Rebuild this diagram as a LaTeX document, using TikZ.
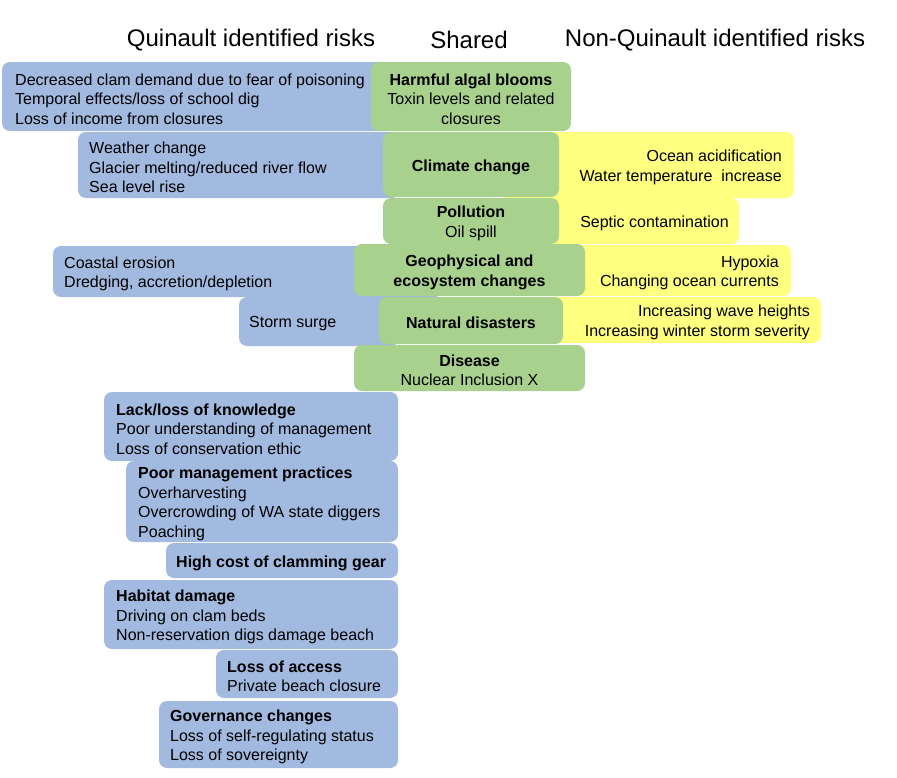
\documentclass[tikz,border=0pt]{standalone}
\usepackage{fontspec}
\setmainfont{Liberation Sans}
\definecolor{qblue}{RGB}{162,185,224}
\definecolor{qgreen}{RGB}{169,209,142}
\definecolor{qyellow}{RGB}{255,255,128}
\begin{document}
\begin{tikzpicture}[x=1pt,y=-1pt,
  boxbase/.style={rounded corners=8pt, inner sep=0pt, outer sep=0pt, draw=none},
  bbox/.style={boxbase, fill=qblue, anchor=north west},
  gbox/.style={boxbase, fill=qgreen, anchor=north west},
  ybox/.style={boxbase, fill=qyellow, anchor=north west},
  txt/.style={inner sep=0pt, font=\fontsize{16}{19.5}\selectfont, text=black, yshift=-2.5pt},
  btext/.style={txt, anchor=west, align=left},
  ytext/.style={txt, anchor=east, align=right},
  gtext/.style={txt, anchor=center, align=center},
  head/.style={inner sep=0pt, font=\fontsize{24}{28}\selectfont, anchor=center}]
\useasboundingbox (0,0) rectangle (897,777);
% headers
\node[head] (h1) at (251,40) {Quinault identified risks};
\node[head] (h2) at (469,40) {Shared};
\node[head] (h3) at (715,40) {Non-Quinault identified risks};
% blue boxes
\node[bbox, minimum width=388pt, minimum height=69pt] (b1) at (2,62) {};
\node[bbox, minimum width=322pt, minimum height=66pt] (b2) at (78,132) {};
\node[bbox, minimum width=390pt, minimum height=51pt] (b3) at (53,246) {};
\node[bbox, minimum width=160pt, minimum height=49pt] (b4) at (239,297) {};
\node[bbox, minimum width=294pt, minimum height=69pt] (b5) at (104,392) {};
\node[bbox, minimum width=272pt, minimum height=81pt] (b6) at (126,461) {};
\node[bbox, minimum width=232pt, minimum height=35pt] (b7) at (166,543) {};
\node[bbox, minimum width=294pt, minimum height=69pt] (b8) at (104,580) {};
\node[bbox, minimum width=182pt, minimum height=48pt] (b9) at (216,650) {};
\node[bbox, minimum width=239pt, minimum height=67pt] (b10) at (159,701) {};
% yellow boxes
\node[ybox, minimum width=294pt, minimum height=66pt] (y1) at (500,132) {};
\node[ybox, minimum width=239pt, minimum height=46pt] (y2) at (500,198) {};
\node[ybox, minimum width=321pt, minimum height=51pt] (y3) at (470,245) {};
\node[ybox, minimum width=321pt, minimum height=46pt] (y4) at (500,297) {};
% green boxes
\node[gbox, minimum width=200pt, minimum height=69pt] (g1) at (371,62) {};
\node[gbox, minimum width=176pt, minimum height=65pt] (g2) at (383,132) {};
\node[gbox, minimum width=176pt, minimum height=46pt] (g3) at (383,198) {};
\node[gbox, minimum width=231pt, minimum height=52pt] (g4) at (354,244) {};
\node[gbox, minimum width=184pt, minimum height=47pt] (g5) at (379,297) {};
\node[gbox, minimum width=231pt, minimum height=46pt] (g6) at (354,345) {};
% blue texts
\node[btext] (b1t) at ([xshift=13pt]b1.west) {Decreased clam demand due to fear of poisoning\\Temporal effects/loss of school dig\\Loss of income from closures};
\node[btext] (b2t) at ([xshift=11pt]b2.west) {Weather change\\Glacier melting/reduced river flow\\Sea level rise};
\node[btext] (b3t) at ([xshift=11pt]b3.west) {Coastal erosion\\Dredging, accretion/depletion};
\node[btext] (b4t) at ([xshift=10pt]b4.west) {Storm surge};
\node[btext] (b5t) at ([xshift=12pt]b5.west) {\textbf{Lack/loss of knowledge}\\Poor understanding of management\\Loss of conservation ethic};
\node[btext] (b6t) at ([xshift=12pt]b6.west) {\textbf{Poor management practices}\\Overharvesting\\Overcrowding of WA state diggers\\Poaching};
\node[btext] (b7t) at ([xshift=10pt]b7.west) {\textbf{High cost of clamming gear}};
\node[btext] (b8t) at ([xshift=12pt]b8.west) {\textbf{Habitat damage}\\Driving on clam beds\\Non-reservation digs damage beach};
\node[btext] (b9t) at ([xshift=11pt]b9.west) {\textbf{Loss of access}\\Private beach closure};
\node[btext] (b10t) at ([xshift=11pt]b10.west) {\textbf{Governance changes}\\Loss of self-regulating status\\Loss of sovereignty};
% yellow texts
\node[ytext] (y1t) at ([xshift=-12pt]y1.east) {Ocean acidification\\Water temperature\ \ increase};
\node[ytext] (y2t) at ([xshift=-10pt]y2.east) {Septic contamination};
\node[ytext] (y3t) at ([xshift=-12pt]y3.east) {Hypoxia\\Changing ocean currents};
\node[ytext] (y4t) at ([xshift=-11pt]y4.east) {Increasing wave heights\\Increasing winter storm severity};
% green texts
\node[gtext] (g1t) at (g1.center) {\textbf{Harmful algal blooms}\\Toxin levels and related\\closures};
\node[gtext] (g2t) at (g2.center) {\textbf{Climate change}};
\node[gtext] (g3t) at (g3.center) {\textbf{Pollution}\\Oil spill};
\node[gtext] (g4t) at (g4.center) {\textbf{Geophysical and}\\\textbf{ecosystem changes}};
\node[gtext] (g5t) at (g5.center) {\textbf{Natural disasters}};
\node[gtext] (g6t) at (g6.center) {\textbf{Disease}\\Nuclear Inclusion X};
\end{tikzpicture}
\end{document}
